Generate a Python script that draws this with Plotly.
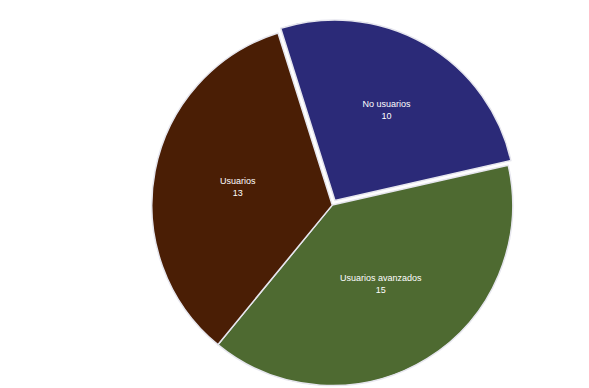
import plotly.graph_objects as go

labels = ["No usuarios", "Usuarios avanzados", "Usuarios"]
values = [10, 15, 13]
colors = ["#2b2a78", "#4e6a31", "#4a1e05"]
pulls = [0.03, 0, 0]

fig = go.Figure(go.Pie(
    labels=labels,
    values=values,
    sort=False,
    direction="clockwise",
    rotation=-17.5,
    pull=pulls,
    marker=dict(colors=colors, line=dict(color="#e6e6ee", width=1.5)),
    textinfo="label+value",
    texttemplate="%{label}<br>%{value}",
    textposition="inside",
    insidetextorientation="horizontal",
    insidetextfont=dict(family="Liberation Sans, Arial, sans-serif", size=9, color="#ffffff"),
    hoverinfo="label+value",
    domain=dict(x=[0.186, 0.915], y=[0.013, 0.971]),
    showlegend=False,
))

fig.update_layout(
    width=589,
    height=388,
    margin=dict(l=0, r=0, t=0, b=0),
    paper_bgcolor="#ffffff",
    plot_bgcolor="#ffffff",
    showlegend=False,
)

fig.write_html("out.html")
